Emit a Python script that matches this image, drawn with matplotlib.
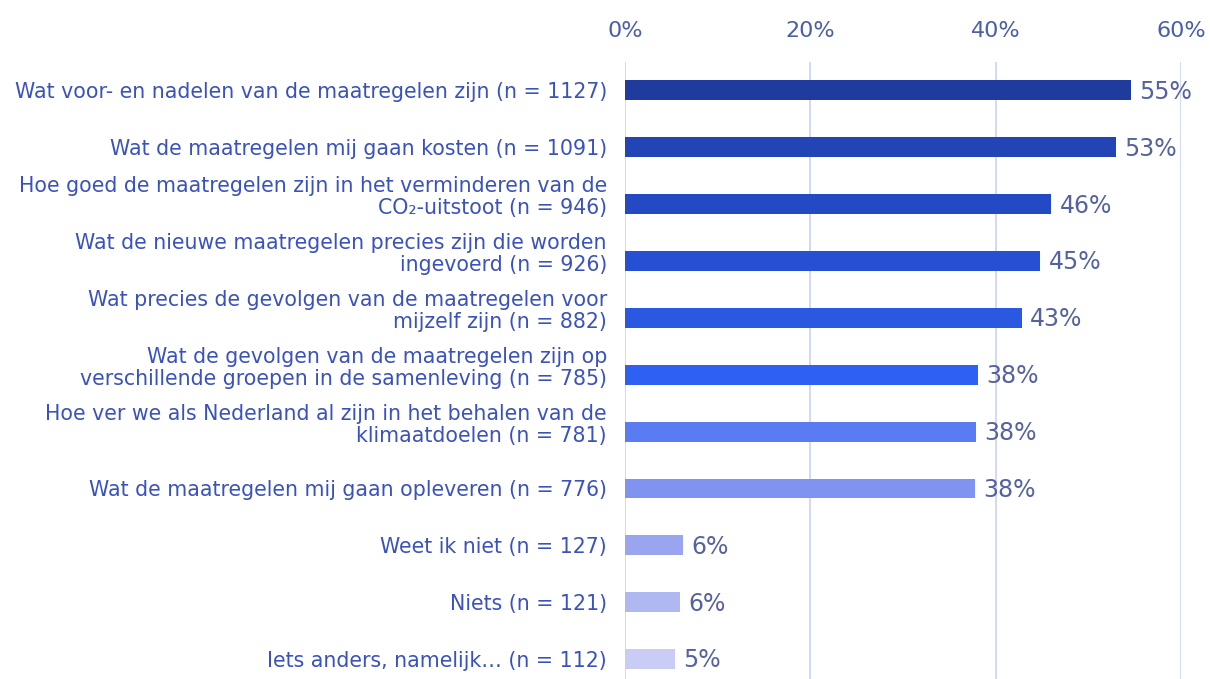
import matplotlib.pyplot as plt
from matplotlib.ticker import FuncFormatter
from matplotlib.transforms import ScaledTranslation

# data
labels = [
    "Wat voor- en nadelen van de maatregelen zijn (n = 1127)",
    "Wat de maatregelen mij gaan kosten (n = 1091)",
    "Hoe goed de maatregelen zijn in het verminderen van de\nCO₂-uitstoot (n = 946)",
    "Wat de nieuwe maatregelen precies zijn die worden\ningevoerd (n = 926)",
    "Wat precies de gevolgen van de maatregelen voor\nmijzelf zijn (n = 882)",
    "Wat de gevolgen van de maatregelen zijn op\nverschillende groepen in de samenleving (n = 785)",
    "Hoe ver we als Nederland al zijn in het behalen van de\nklimaatdoelen (n = 781)",
    "Wat de maatregelen mij gaan opleveren (n = 776)",
    "Weet ik niet (n = 127)",
    "Niets (n = 121)",
    "Iets anders, namelijk… (n = 112)",
]
values = [54.6, 53.0, 46.0, 44.8, 42.8, 38.1, 37.9, 37.8, 6.3, 5.9, 5.4]
value_labels = ["55%", "53%", "46%", "45%", "43%", "38%", "38%", "38%", "6%", "6%", "5%"]
bar_colors = ["#1f3b9e", "#2244b4", "#2449c4", "#2650d4", "#2a58e0", "#2f60f4",
              "#5a7cf2", "#8093f0", "#99a5ef", "#b0b8f1", "#c9cdf5"]
x_ticks = [0, 20, 40, 60]

plt.rcParams['font.family'] = ['DejaVu Sans']
label_col = "#3a52bc"
num_col = "#55629e"

fig = plt.figure(figsize=(12.1, 6.79), dpi=100)
ax = fig.add_axes([0.5165, 0.0, 0.4595, 0.9087])

pos = list(range(len(values)))
ax.barh(pos, values, height=0.35, color=bar_colors, zorder=3)

# percentage labels next to the bars
for p, v, t in zip(pos, values, value_labels):
    ax.annotate(t, (v, p), xytext=(6, -1), textcoords="offset points",
                va="center", ha="left", fontsize=17, color=num_col, zorder=4)

ax.set_xlim(0, 60)
ax.set_ylim(10.35, -0.5)
ax.set_xticks(x_ticks)
ax.xaxis.set_major_formatter(FuncFormatter(lambda x, _: f"{x:.0f}%"))
ax.xaxis.tick_top()
ax.tick_params(axis="x", length=0, pad=15, labelsize=16, labelcolor="#4b5ea8")
ax.set_yticks(pos)
ax.set_yticklabels(labels, fontsize=14.8, color=label_col, linespacing=1.1)
ax.tick_params(axis="y", length=0, pad=13)
# two-line labels sit a bit higher than the bar
shift = ScaledTranslation(0, 7 / 72, fig.dpi_scale_trans)
for lab in ax.get_yticklabels():
    if "\n" in lab.get_text():
        lab.set_transform(lab.get_transform() + shift)
ax.grid(axis="x", color="#ccd3f0", linewidth=1.2, zorder=0)
for s in ax.spines.values():
    s.set_visible(False)

fig.savefig("out.png", dpi=100)
